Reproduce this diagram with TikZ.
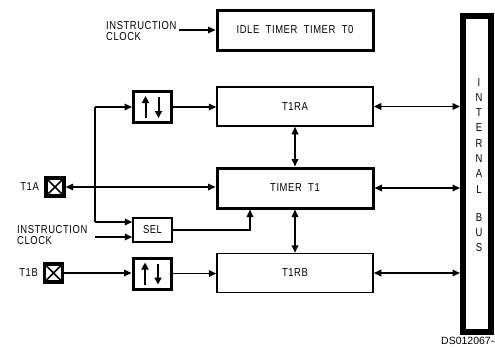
\documentclass[tikz,border=0pt]{standalone}
\usepackage{fontspec}
\setmainfont{Liberation Sans}[FakeStretch=0.82,LetterSpace=5]
\newfontfamily\dsfont{Liberation Sans}
\usetikzlibrary{arrows.meta,calc}
\begin{document}
\begin{tikzpicture}[x=1pt,y=-1pt,
  font=\fontsize{11.5}{11}\selectfont,
  conn/.style={line width=1.6pt},
  arr/.style={conn,-{Triangle[length=7.5pt,width=6.5pt]}},
  darr/.style={conn,{Triangle[length=7.5pt,width=6.5pt]}-{Triangle[length=7.5pt,width=6.5pt]}},
  thinbox/.style={draw,line width=1.5pt,minimum width=156pt,minimum height=39pt,inner sep=0pt},
  thickbox/.style={draw,line width=3pt,minimum width=156pt,minimum height=40pt,inner sep=0pt},
  pinbox/.style={draw,line width=3.4pt,minimum width=18pt,minimum height=18pt,inner sep=0pt,
    path picture={\draw[line width=1.6pt] (path picture bounding box.north west) -- (path picture bounding box.south east)
      (path picture bounding box.north east) -- (path picture bounding box.south west);}},
  edgebox/.style={draw,line width=3pt,minimum width=38pt,minimum height=31pt,inner sep=0pt,
    path picture={
      \draw[line width=2pt,-{Triangle[length=7pt,width=7pt]}] ([xshift=-7pt,yshift=-11pt]path picture bounding box.center) -- ([xshift=-7pt,yshift=11pt]path picture bounding box.center);
      \draw[line width=2pt,-{Triangle[length=7pt,width=7pt]}] ([xshift=6pt,yshift=10pt]path picture bounding box.center) -- ([xshift=6pt,yshift=-11pt]path picture bounding box.center);}},
  lbl/.style={inner sep=0pt,align=left}
]
\useasboundingbox (0,0) rectangle (495,346);

% main boxes
\node[thickbox] (idle) at (295,30) {IDLE\ \ TIMER\ \ TIMER\ \ T0};
\node[thinbox] (t1ra) at (295,106.5) {T1RA};
\node[thickbox] (t1) at (295,188) {TIMER\ \ T1};
\node[thinbox] (t1rb) at (295,273) {T1RB};

% internal bus
\node[draw,line width=6pt,minimum width=28pt,minimum height=316pt,inner sep=0pt] (bus) at (477,174) {};
\foreach \c/\y [count=\i] in {I/83,N/98,T/113,E/128,R/144,N/159,A/174,L/190,B/218,U/233,S/248}
  \node[inner sep=0pt] (bl\i) at (479,\y) {\c};

% top instruction clock
\node[lbl,anchor=west] (ic1) at (106,31) {INSTRUCTION\\CLOCK};
\draw[arr] (179,30) coordinate (ic1e) -- (ic1e -| idle.west);

% edge detectors and SEL
\node[edgebox] (ed1) at (152.5,107) {};
\node[edgebox] (ed2) at (152,273.5) {};
\node[draw,line width=1.5pt,minimum width=39pt,minimum height=24pt,inner sep=0pt] (sel) at (152.5,230) {SEL};

% pins
\node[pinbox] (pina) at (55,187) {};
\node[lbl,anchor=east] (la) at (39,187) {T1A};
\node[pinbox] (pinb) at (53.5,273) {};
\node[lbl,anchor=east] (lb) at (38,273) {T1B};

% bottom instruction clock
\node[lbl,anchor=west] (ic2) at (17,235) {INSTRUCTION\\CLOCK};

% connectors
\coordinate (jtop) at (95,107);
\coordinate (jbot) at (95,222);
\coordinate (ck) at (95,237);
\draw[darr] (pina.east) -- (t1.west |- pina.east);
\draw[conn] (jtop) -- (jbot);
\draw[arr] (jtop) -- (ed1.west);
\draw[arr] (jbot) -- (jbot -| sel.west);
\draw[arr] (ck) -- (ck -| sel.west);
\draw[arr] (ed1.east) -- (ed1.east -| t1ra.west);
\draw[arr] (pinb.east) -- (pinb.east -| ed2.west);
\draw[arr] (ed2.east) -- (ed2.east -| t1rb.west);
\draw[arr] (sel.east) -| ([xshift=-45pt]t1.south);
\draw[darr] (t1ra.south) -- (t1.north);
\draw[darr] (t1.south) -- (t1rb.north);
\draw[darr] (t1ra.east) -- (t1ra.east -| bus.west);
\draw[darr] (t1.east) -- (t1.east -| bus.west);
\draw[darr] (t1rb.east) -- (t1rb.east -| bus.west);

\node[anchor=west,inner sep=0pt,font=\dsfont\fontsize{10.5}{11}\selectfont] (ds) at (441,341) {DS012067-4};
\end{tikzpicture}
\end{document}
